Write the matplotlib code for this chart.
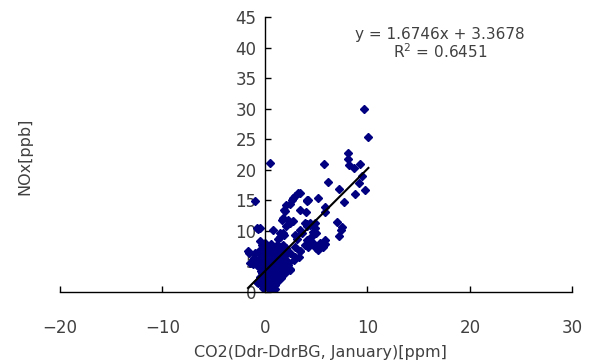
import numpy as np
import matplotlib.pyplot as plt

# regression shown on the chart
slope = 1.6746
intercept = 3.3678
r2 = 0.6451

# sparse points (CO2 excess, NOx)
x_sparse = [9.7, 10.1, 8.1, 8.1, 8.2, 8.7, 9.3, 5.8, 9.5, 6.2, 9.2, 7.25, 9.8, 8.8,
            7.7, 4.1, 5.2, 3.4, 3.2, 2.9, 2.6, 2.1, 1.9, 4.1, 3.4, 4.0, 5.9, 5.9,
            7.0, 7.5, 7.4, 7.2, 4.9, 4.1, 4.7, 5.9, 5.7, 0.5, -1.0, -0.75, -0.5,
            -0.5, -1.65, -1.2, -1.0, -0.8, 1.8, 2.3, 2.7, 0.8, 1.5, 1.3, 1.85, 3.1,
            3.6, 3.9, 4.4, 5.0, 4.5, 4.1, 4.2, 5.0, 5.4, 5.9, 5.2, 2.9, 3.4, 3.3,
            2.8, 2.3, 2.4, 2.0, 1.5, 2.76, 2.44, 4.2, 1.95, 1.7, -0.65, 1.46, 1.8,
            2.1, 2.4, 2.9, 3.4, 4.1, 4.4, 4.9, -1.6, -1.5, -1.1, 2.4, 3.9, 4.6,
            5.0, 3.4, 2.9, 2.3]
y_sparse = [29.9, 25.4, 22.7, 21.7, 20.8, 20.3, 21.0, 20.9, 19.0, 18.0, 17.8, 16.8, 16.7, 16.0,
            14.7, 15.0, 15.4, 16.1, 16.1, 15.6, 15.0, 14.2, 13.4, 14.8, 13.4, 13.1, 13.8, 13.1,
            11.5, 10.6, 10.1, 9.1, 11.3, 11.1, 9.8, 8.5, 7.4, 21.1, 14.8, 10.5, 10.4,
            8.3, 6.6, 4.6, 5.3, 1.6, 12.0, 11.8, 11.6, 10.1, 9.7, 8.7, 9.3, 8.7,
            9.6, 11.2, 10.9, 9.6, 8.9, 8.5, 7.4, 7.4, 8.0, 7.8, 6.9, 7.4, 6.6, 5.7,
            5.2, 4.4, 3.8, 3.3, 2.5, 15.3, 14.3, 15.0, 13.2, 11.75, 10.2, 9.0, 9.6,
            10.7, 11.2, 9.3, 10.1, 10.7, 11.2, 10.4, 6.3, 4.65, 4.65, 3.6, 7.7, 8.2,
            7.1, 6.6, 5.7, 4.65]

# dense cluster near the origin
x_dense = [-0.3, 0.0, 0.3, 0.6, 0.9, 1.2, 1.5, 1.8, 2.1,
           -1.0, -0.5, -0.2, 0.2, 0.5, 0.8, 1.1, 1.4, 1.7, 2.0, 2.4,
           -1.1, -0.6, -0.1, 0.1, 0.4, 0.7, 1.0, 1.3, 1.6, 1.9, 2.2,
           -0.8, -0.3, 0.0, 0.3, 0.6, 0.9, 1.2, 1.5, 1.8,
           -0.4, -0.1, 0.2, 0.5, 0.8, 1.1, 1.4, 1.7, 2.0,
           -0.5, -0.2, 0.1, 0.4, 0.7, 1.0, 1.3, 1.6,
           -0.7, -0.3, 0.0, 0.3, 0.6, 0.9, 1.2,
           -0.2, 0.1, 0.4, 0.7, 1.0,
           0.15, 0.45, 0.75, 1.05, 0.25, 0.55, 0.85, 0.35, 0.65, 0.95,
           -0.15, 0.15, 0.45, 0.75, 1.05, 1.35, 1.65,
           -0.35, 0.0, 0.35, 0.65, 0.95, 1.25, 1.55, 1.85,
           -0.45, -0.2, 0.25, 0.55, 0.85, 1.15, 1.45, 1.75, 2.05,
           -0.55, -0.15, 0.15, 0.45, 0.75, 1.05, 1.35, 1.65,
           -0.25, 0.05, 0.35, 0.65, 0.95, 1.25, 1.55,
           -0.4, -0.05, 0.25, 0.55, 0.85, 1.15,
           -0.1, 0.2, 0.5, 0.8]
y_dense = [7.6, 7.9, 7.4, 7.8, 7.2, 7.6, 7.3, 7.7, 7.1,
           6.4, 6.8, 6.2, 6.6, 6.9, 6.3, 6.7, 6.5, 6.1, 6.8, 6.4,
           5.6, 5.2, 5.8, 5.4, 5.9, 5.5, 5.1, 5.7, 5.3, 5.6, 5.0,
           4.3, 4.7, 4.5, 4.9, 4.2, 4.6, 4.8, 4.4, 4.1,
           3.4, 3.8, 3.6, 3.2, 3.9, 3.5, 3.7, 3.3, 3.0,
           2.4, 2.8, 2.6, 2.2, 2.9, 2.5, 2.7, 2.3,
           1.5, 1.9, 1.3, 1.7, 1.4, 1.8, 1.6,
           0.6, 0.9, 0.5, 0.8, 0.4,
           6.0, 5.0, 4.0, 3.0, 2.0, 3.0, 2.0, 1.2, 1.0, 1.1,
           7.1, 7.0, 7.2, 6.9, 7.1, 7.0, 6.8,
           6.0, 6.1, 5.9, 6.1, 6.0, 5.9, 6.0, 5.8,
           5.0, 4.9, 5.1, 4.8, 5.0, 5.2, 4.9, 5.0, 4.7,
           4.0, 4.1, 3.9, 4.0, 4.2, 4.0, 3.9, 3.8,
           3.0, 3.1, 2.9, 3.1, 3.0, 2.9, 2.8,
           2.0, 2.1, 1.9, 2.2, 2.0, 2.1,
           1.0, 1.1, 1.2, 1.0]

x = np.array(x_sparse + x_dense)
y = np.array(y_sparse + y_dense)

fig = plt.figure(figsize=(5.9, 3.63), dpi=100)
ax = fig.add_axes([0.1017, 0.1964, 0.8683, 0.7566])

ax.plot(x, y, linestyle="none", marker="D", markersize=3.6, color="#000080")

# trend line over the data range
xl = np.array([x.min(), x.max()])
ax.plot(xl, slope * xl + intercept, color="black", linewidth=1.5)

ax.set_xlim(-20, 30)
ax.set_ylim(0, 45)
ax.set_xticks(np.arange(-20, 31, 10))
ax.set_yticks(np.arange(0, 46, 5))

ax.spines["left"].set_position(("data", 0))
ax.spines["bottom"].set_position(("data", 0))
ax.spines["top"].set_visible(False)
ax.spines["right"].set_visible(False)
for s in ["left", "bottom"]:
    ax.spines[s].set_linewidth(1.0)

txtc = "#404040"
ax.tick_params(axis="x", direction="in", length=4, width=1, pad=20,
               labelsize=12, labelcolor=txtc)
ax.tick_params(axis="y", direction="in", length=4, width=1, pad=6,
               labelsize=12, labelcolor=txtc)
ax.set_xticklabels(["\u221220", "\u221210", "0", "10", "20", "30"])

ax.text(17.1, 42.2, "y = %.4fx + %.4f" % (slope, intercept), ha="center", va="center",
        fontsize=11, color=txtc)
ax.text(17.1, 39.4, "R$^2$ = %.4f" % r2, ha="center", va="center",
        fontsize=11, color=txtc)

fig.text(25 / 590, 1 - 156 / 363, "NOx[ppb]", rotation=90, ha="center", va="center",
         fontsize=11.5, color=txtc)
fig.text(320 / 590, 1 - 352 / 363, "CO2(Ddr-DdrBG, January)[ppm]", ha="center",
         va="center", fontsize=11.5, color=txtc)

fig.savefig("out.png", dpi=100)
